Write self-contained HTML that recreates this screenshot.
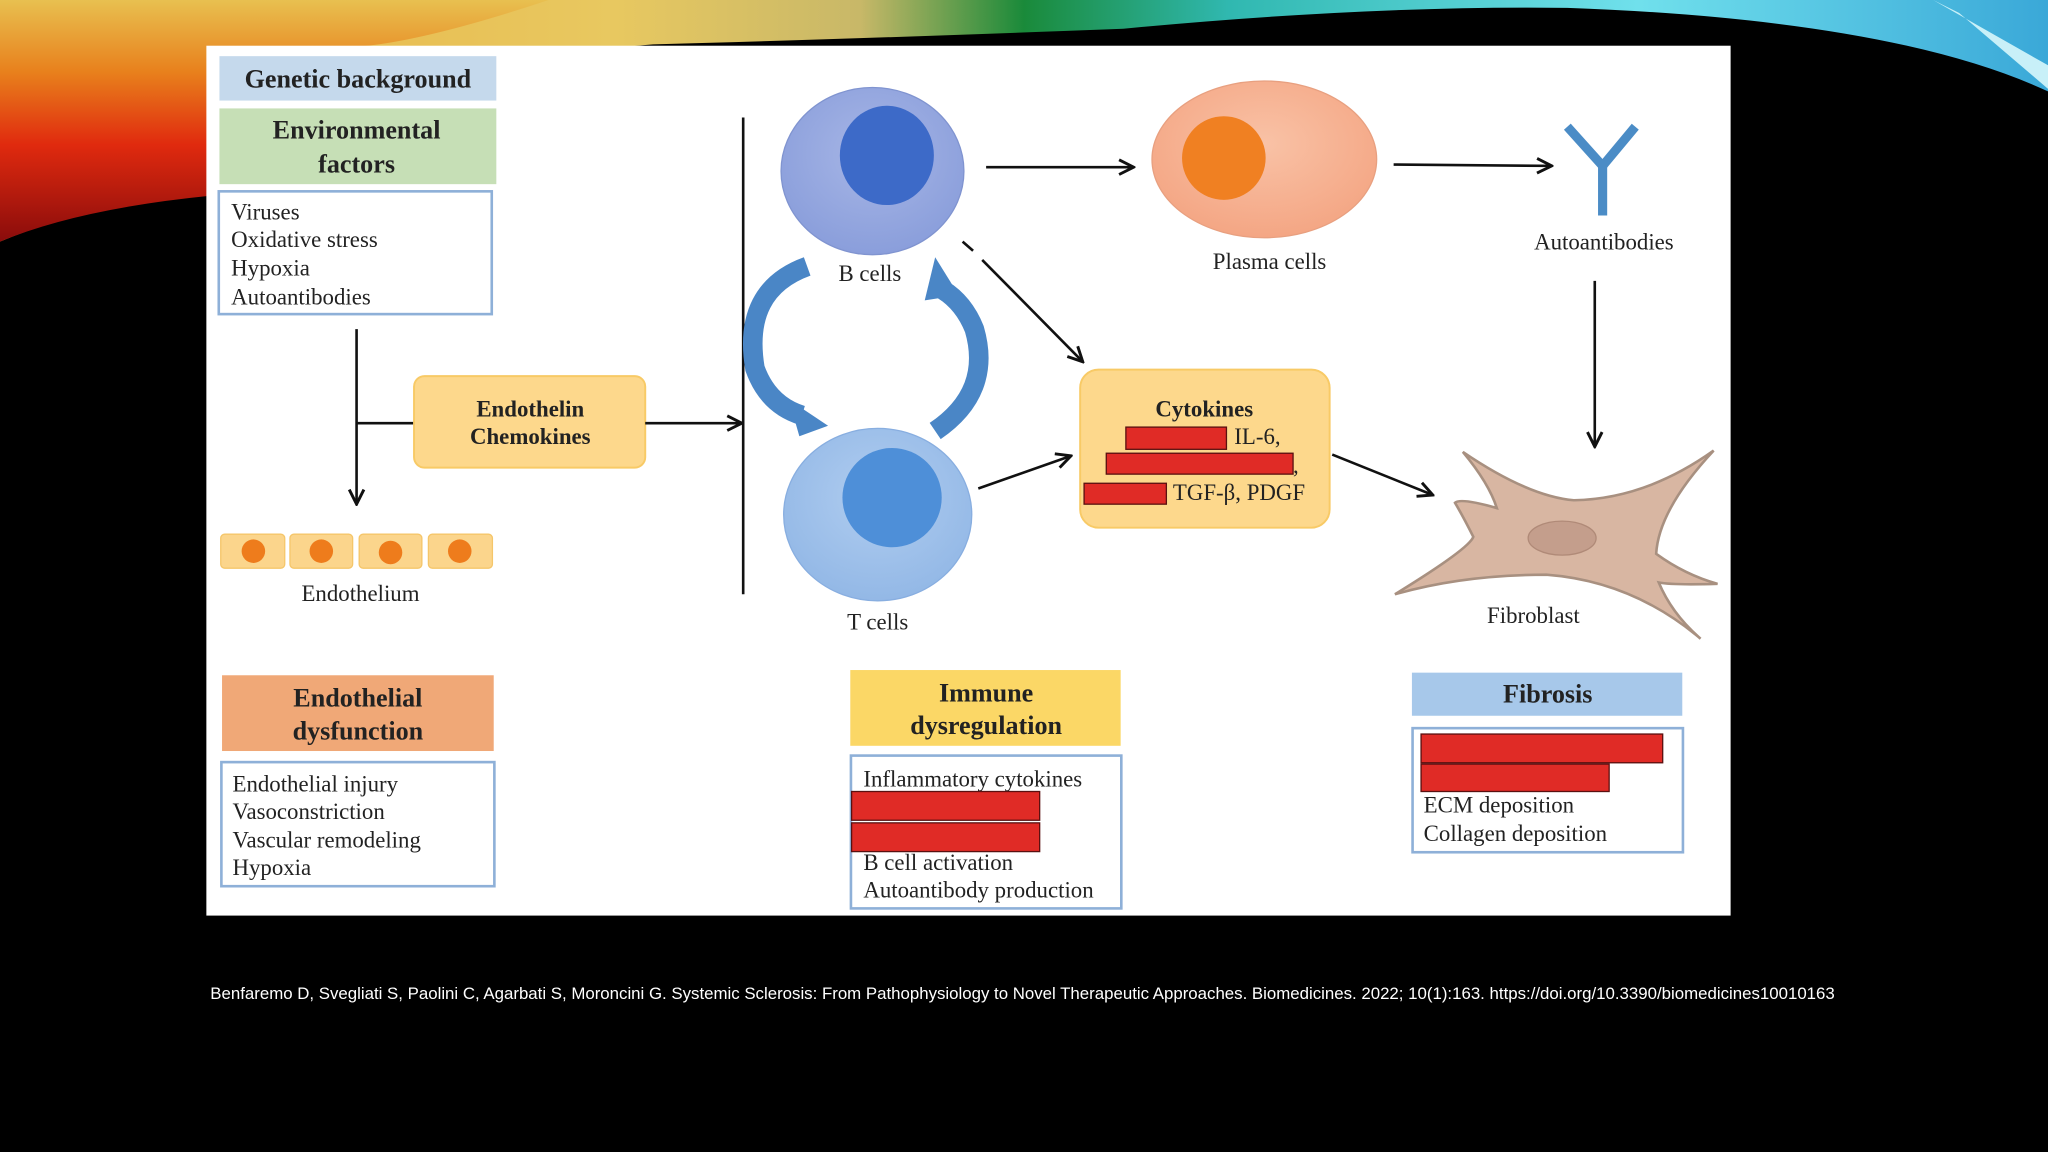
<!DOCTYPE html>
<html><head><meta charset="utf-8"><style>
html,body{margin:0;padding:0;background:#000;}
svg{display:block;}
text{font-family:"Liberation Serif",serif;fill:#222;}
.b{font-weight:bold;}
</style></head><body>
<svg width="2048" height="1152" viewBox="0 0 1568 882" xmlns="http://www.w3.org/2000/svg">
<defs>
<linearGradient id="sw" x1="0" y1="0" x2="1" y2="0">
<stop offset="0" stop-color="#e8b040"/>
<stop offset="0.3" stop-color="#e8c860"/>
<stop offset="0.42" stop-color="#c8b868"/>
<stop offset="0.5" stop-color="#1a8a3a"/>
<stop offset="0.6" stop-color="#30b8b0"/>
<stop offset="0.8" stop-color="#70e0ec"/>
<stop offset="1" stop-color="#3aa8d8"/>
</linearGradient>
<linearGradient id="sw2" x1="0" y1="0" x2="0" y2="1">
<stop offset="0" stop-color="#e8c050"/>
<stop offset="0.3" stop-color="#e8801c"/>
<stop offset="0.6" stop-color="#e02a0e"/>
<stop offset="1" stop-color="#8a0c0c"/>
</linearGradient>
<radialGradient id="bc" cx="0.5" cy="0.4" r="0.6"><stop offset="0" stop-color="#a7b6e6"/><stop offset="1" stop-color="#8a9edb"/></radialGradient>
<radialGradient id="tc" cx="0.5" cy="0.4" r="0.6"><stop offset="0" stop-color="#b0cdf0"/><stop offset="1" stop-color="#93b8e6"/></radialGradient>
<radialGradient id="pc" cx="0.5" cy="0.4" r="0.6"><stop offset="0" stop-color="#f9c2a6"/><stop offset="1" stop-color="#f4a684"/></radialGradient>
<marker id="ar" viewBox="0 0 10 10" refX="9" refY="5" markerWidth="7" markerHeight="7" orient="auto"><path d="M1,1 L9,5 L1,9" fill="none" stroke="#111" stroke-width="1.6"/></marker>
</defs>
<rect width="1568" height="882" fill="#000"/>
<!-- swoosh -->
<path d="M0,0 L1568,0 L1568,70 Q1450,15 1200,6 Q1050,4 860,22 Q650,30 500,34 Q300,50 160,140 Q60,160 0,185 Z" fill="url(#sw)"/>
<path d="M0,0 L420,0 Q300,40 250,36 Q190,80 160,150 Q60,160 0,185 Z" fill="url(#sw2)"/>
<path d="M1480,0 L1568,50 L1568,68 L1500,10 Z" fill="#c8f0f8"/>
<!-- panel -->
<rect x="158" y="35" width="1167" height="666" fill="#fff"/>
<!-- left column -->
<rect x="168" y="43" width="212" height="34" fill="#c5d9ec"/>
<text x="274" y="67" text-anchor="middle" class="b" font-size="20">Genetic background</text>
<rect x="168" y="83" width="212" height="58" fill="#c6dfb6"/>
<text x="273" y="106" text-anchor="middle" class="b" font-size="20">Environmental</text>
<text x="273" y="132" text-anchor="middle" class="b" font-size="20">factors</text>
<rect x="167.5" y="146.5" width="209" height="94" fill="#fff" stroke="#8eb0d8" stroke-width="2"/>
<text font-size="17.5"><tspan x="177" y="168">Viruses</tspan><tspan x="177" y="189">Oxidative stress</tspan><tspan x="177" y="211">Hypoxia</tspan><tspan x="177" y="233">Autoantibodies</tspan></text>
<line x1="273" y1="252" x2="273" y2="386" stroke="#111" stroke-width="2" marker-end="url(#ar)"/>
<line x1="273" y1="324" x2="317" y2="324" stroke="#111" stroke-width="2"/>
<rect x="317" y="288" width="177" height="70" rx="8" fill="#fdd88c" stroke="#f8ca66" stroke-width="1.5"/>
<text x="406" y="319" text-anchor="middle" class="b" font-size="17.5">Endothelin</text>
<text x="406" y="340" text-anchor="middle" class="b" font-size="17.5">Chemokines</text>
<line x1="494" y1="324" x2="568" y2="324" stroke="#111" stroke-width="2" marker-end="url(#ar)"/>
<line x1="569" y1="90" x2="569" y2="455" stroke="#111" stroke-width="2"/>
<g fill="#fbd58c" stroke="#f5c66a">
<rect x="169" y="409" width="49" height="26" rx="3"/><rect x="222" y="409" width="48" height="26" rx="3"/><rect x="275" y="409" width="48" height="26" rx="3"/><rect x="328" y="409" width="49" height="26" rx="3"/></g>
<g fill="#ee7c1c"><circle cx="194" cy="422" r="9"/><circle cx="246" cy="422" r="9"/><circle cx="299" cy="423" r="9"/><circle cx="352" cy="422" r="9"/></g>
<text x="276" y="460" text-anchor="middle" font-size="17.5">Endothelium</text>
<!-- cells -->
<ellipse cx="668" cy="131" rx="70" ry="64" fill="url(#bc)" stroke="#8094d0"/>
<ellipse cx="679" cy="119" rx="36" ry="38" fill="#3d6ac8"/>
<text x="666" y="215" text-anchor="middle" font-size="17.5">B cells</text>
<ellipse cx="672" cy="394" rx="72" ry="66" fill="url(#tc)" stroke="#88aee0"/>
<circle cx="683" cy="381" r="38" fill="#4e8fd8"/>
<text x="672" y="482" text-anchor="middle" font-size="17.5">T cells</text>
<path d="M618,204 Q568,222 578,282 Q588,310 614,318" fill="none" stroke="#4a86c6" stroke-width="15"/>
<polygon points="604,306 634,326 612,334" fill="#4a86c6"/>
<path d="M716,330 Q760,300 746,252 Q738,232 722,222" fill="none" stroke="#4a86c6" stroke-width="15"/>
<polygon points="708,230 716,197 734,226" fill="#4a86c6"/>
<ellipse cx="968" cy="122" rx="86" ry="60" fill="url(#pc)" stroke="#e8a080"/>
<circle cx="937" cy="121" r="32" fill="#f08022"/>
<text x="972" y="206" text-anchor="middle" font-size="17.5">Plasma cells</text>
<line x1="755" y1="128" x2="868" y2="128" stroke="#111" stroke-width="2" marker-end="url(#ar)"/>
<line x1="1067" y1="126" x2="1188" y2="127" stroke="#111" stroke-width="2" marker-end="url(#ar)"/>
<g stroke="#4b8cc6" stroke-width="7" fill="none" stroke-linejoin="miter"><path d="M1200,97 L1227,127 L1252,97"/><line x1="1227" y1="127" x2="1227" y2="165"/></g>
<text x="1228" y="191" text-anchor="middle" font-size="17.5">Autoantibodies</text>
<line x1="737" y1="185" x2="745" y2="192" stroke="#111" stroke-width="2"/>
<line x1="752" y1="199" x2="829" y2="277" stroke="#111" stroke-width="2" marker-end="url(#ar)"/>
<line x1="749" y1="374" x2="820" y2="349" stroke="#111" stroke-width="2" marker-end="url(#ar)"/>
<rect x="827" y="283" width="191" height="121" rx="14" fill="#fdd88c" stroke="#f8ca66" stroke-width="1.5"/>
<text x="922" y="319" text-anchor="middle" class="b" font-size="17.5">Cytokines</text>
<g fill="#e02b26" stroke="#5a1010" stroke-width="1"><rect x="862" y="327" width="77" height="17"/><rect x="847" y="347" width="143" height="16"/><rect x="830" y="370" width="63" height="16"/></g>
<text x="945" y="340" font-size="17.5">IL-6,</text>
<text x="990" y="362" font-size="17.5">,</text>
<text x="898" y="383" font-size="17.5">TGF-β, PDGF</text>
<line x1="1020" y1="348" x2="1097" y2="379" stroke="#111" stroke-width="2" marker-end="url(#ar)"/>
<line x1="1221" y1="215" x2="1221" y2="342" stroke="#111" stroke-width="2" marker-end="url(#ar)"/>
<path d="M1120,346 Q1170,380 1205,383 Q1260,382 1312,345 Q1270,390 1268,424 Q1290,440 1315,447 Q1280,448 1270,446 Q1280,470 1302,489 Q1250,445 1184,440 Q1120,440 1068,455 Q1125,420 1128,411 Q1120,395 1114,385 Q1118,381 1146,389 Q1140,370 1120,346 Z" fill="#d8b6a2" stroke="#a89080" stroke-width="2"/>
<ellipse cx="1196" cy="412" rx="26" ry="13" fill="#c49e8c" stroke="#b08a78"/>
<text x="1174" y="477" text-anchor="middle" font-size="17.5">Fibroblast</text>
<!-- bottom -->
<rect x="170" y="517" width="208" height="58" fill="#f0a877"/>
<text x="274" y="541" text-anchor="middle" class="b" font-size="20">Endothelial</text>
<text x="274" y="566" text-anchor="middle" class="b" font-size="20">dysfunction</text>
<rect x="169.5" y="583.5" width="209" height="95" fill="#fff" stroke="#8eb0d8" stroke-width="2"/>
<text font-size="17.5"><tspan x="178" y="606">Endothelial injury</tspan><tspan x="178" y="627">Vasoconstriction</tspan><tspan x="178" y="649">Vascular remodeling</tspan><tspan x="178" y="670">Hypoxia</tspan></text>
<rect x="651" y="513" width="207" height="58" fill="#fbd766"/>
<text x="755" y="537" text-anchor="middle" class="b" font-size="20">Immune</text>
<text x="755" y="562" text-anchor="middle" class="b" font-size="20">dysregulation</text>
<rect x="651.5" y="578.5" width="207" height="117" fill="#fff" stroke="#8eb0d8" stroke-width="2"/>
<text x="661" y="602" font-size="17.5">Inflammatory cytokines</text>
<g fill="#e02b26" stroke="#5a1010" stroke-width="1"><rect x="652" y="606" width="144" height="22"/><rect x="652" y="630" width="144" height="22"/></g>
<text font-size="17.5"><tspan x="661" y="666">B cell activation</tspan><tspan x="661" y="687">Autoantibody production</tspan></text>
<rect x="1081" y="515" width="207" height="33" fill="#a7c8ea"/>
<text x="1185" y="538" text-anchor="middle" class="b" font-size="20">Fibrosis</text>
<rect x="1081.5" y="557.5" width="207" height="95" fill="#fff" stroke="#8eb0d8" stroke-width="2"/>
<g fill="#e02b26" stroke="#5a1010" stroke-width="1"><rect x="1088" y="562" width="185" height="22"/><rect x="1088" y="585" width="144" height="21"/></g>
<text font-size="17.5"><tspan x="1090" y="622">ECM deposition</tspan><tspan x="1090" y="644">Collagen deposition</tspan></text>
<text x="161" y="765" style="fill:#fff;font-family:'Liberation Sans',sans-serif;font-size:12.9px">Benfaremo D, Svegliati S, Paolini C, Agarbati S, Moroncini G. Systemic Sclerosis: From Pathophysiology to Novel Therapeutic Approaches. Biomedicines. 2022; 10(1):163. https://doi.org/10.3390/biomedicines10010163</text>
</svg>
</body></html>
